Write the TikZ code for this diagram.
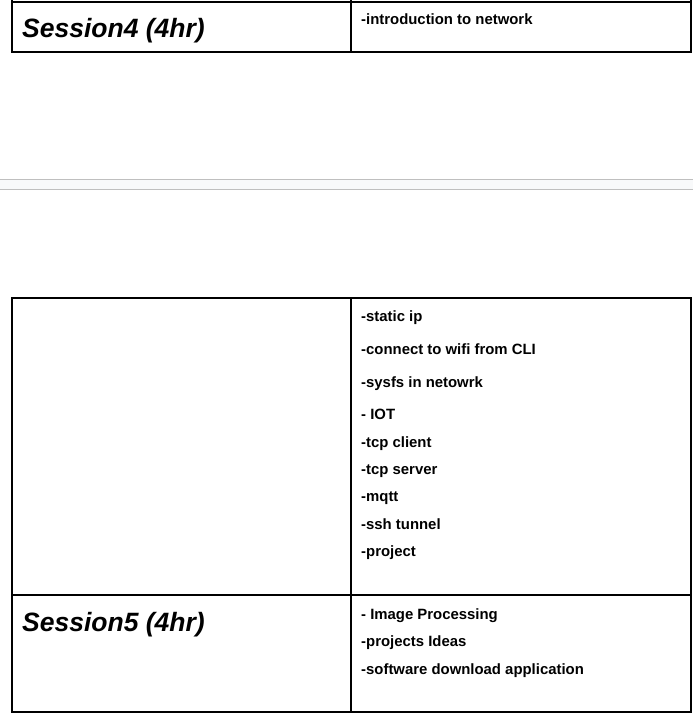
\documentclass[tikz,border=0pt]{standalone}
\usepackage{fontspec}
\setmainfont{Liberation Sans}
\begin{document}
\begin{tikzpicture}[x=1pt,y=-1pt,
  grid/.style={line width=1.15pt,black},
  sep/.style={line width=1pt,draw=black!25},
  item/.style={inner sep=0pt,anchor=base west,font=\fontsize{14.9}{16}\selectfont\bfseries},
  title/.style={inner sep=0pt,anchor=base west,font=\fontsize{26.5}{30}\selectfont\bfseries\itshape}]
\useasboundingbox (0,0) rectangle (693,728);
% top table
\draw[grid] (12,0) -- (12,52) (351,0) -- (351,52) (691,0) -- (691,52);
\draw[grid] (11.4,2) -- (691.6,2) (11.4,52) -- (691.6,52);
\node[title] (s4) at (22,37) {Session4 (4hr)};
\node[item] (intro) at (361,24) {-introduction to network};
% separator band
\fill[fill={rgb,255:red,248;green,249;blue,250}] (0,179) rectangle (693,189);
\draw[sep] (0,179) -- (693,179) (0,189) -- (693,189);
% lower table
\draw[grid] (12,298) -- (12,712) (351,298) -- (351,712) (691,298) -- (691,712);
\draw[grid] (11.4,298) -- (691.6,298) (11.4,595) -- (691.6,595) (11.4,712) -- (691.6,712);
\node[item] (i1) at (361,321) {-static ip};
\node[item] (i2) at (361,354) {-connect to wifi from CLI};
\node[item] (i3) at (361,387) {-sysfs in netowrk};
\node[item] (i4) at (361,419) {- IOT};
\node[item] (i5) at (361,447) {-tcp client};
\node[item] (i6) at (361,474) {-tcp server};
\node[item] (i7) at (361,501) {-mqtt};
\node[item] (i8) at (361,529) {-ssh tunnel};
\node[item] (i9) at (361,556) {-project};
\node[title] (s5) at (22,631) {Session5 (4hr)};
\node[item] (j1) at (361,619) {- Image Processing};
\node[item] (j2) at (361,646) {-projects Ideas};
\node[item] (j3) at (361,674) {-software download application};
\end{tikzpicture}
\end{document}
